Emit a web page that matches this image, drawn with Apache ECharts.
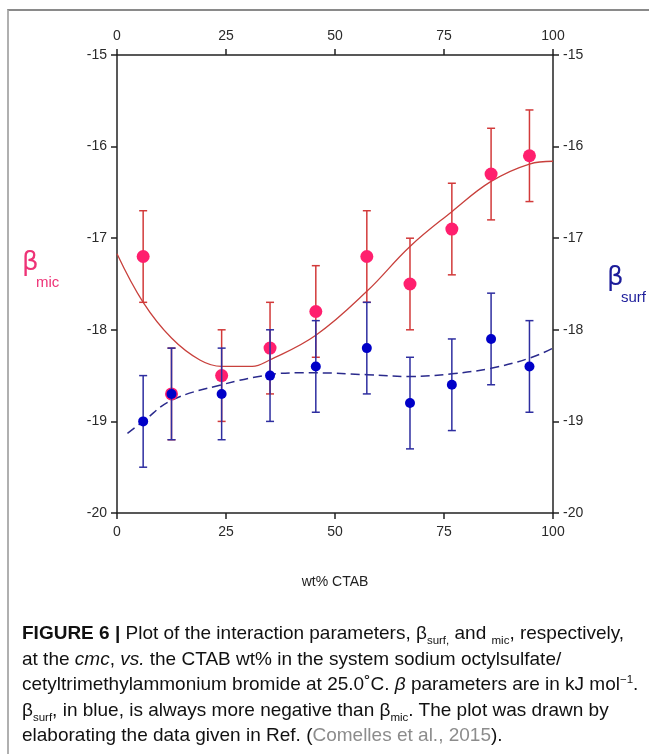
<!DOCTYPE html>
<html>
<head>
<meta charset="utf-8">
<script src="https://cdn.jsdelivr.net/npm/echarts@6/dist/echarts.min.js"></script>
<style>
  html, body { margin: 0; padding: 0; background: #fff; }
  #wrap { position: relative; width: 649px; height: 754px; overflow: hidden; }
  #frame { position: absolute; left: 7px; top: 9px; width: 660px; height: 760px;
    border-top: 2px solid #8a8a8a; border-left: 2px solid #b0b0b0; }
  #chart { position: absolute; left: 0; top: 0; width: 649px; height: 754px; }
  #caption { position: absolute; left: 22px; top: 620px; width: 625px;
    font-family: "Liberation Sans", Arial, sans-serif;
    font-size: 19px; line-height: 25.6px; color: #111; white-space: nowrap; }
  #caption sub, #caption sup { font-size: 11.5px; line-height: 0; }
  .ref { color: #8c8c8c; }
</style>
</head>
<body>
<div id="wrap">
  <div id="frame"></div>
  <div id="chart"></div>
  <div id="caption">
    <b>FIGURE 6 |</b> Plot of the interaction parameters, β<sub>surf,</sub> and <sub>mic</sub>, respectively,<br>
    at the <i>cmc</i>, <i>vs.</i> the CTAB wt% in the system sodium octylsulfate/<br>
    cetyltrimethylammonium bromide at 25.0˚C. <i>β</i> parameters are in kJ mol<sup>−1</sup>.<br>
    β<sub>surf</sub>, in blue, is always more negative than β<sub>mic</sub>. The plot was drawn by<br>
    elaborating the data given in Ref. (<span class="ref">Comelles et al., 2015</span>).
  </div>
</div>
<script>
// CTAB wt% of the measured points
const wtCTAB = [6.0, 12.5, 24.0, 35.1, 45.6, 57.3, 67.2, 76.8, 85.8, 94.6]
// beta_mic (red) and beta_surf (blue), kJ/mol
const betaMic = [-17.2, -18.7, -18.5, -18.2, -17.8, -17.2, -17.5, -16.9, -16.3, -16.1]
const betaSurf = [-19.0, -18.7, -18.7, -18.5, -18.4, -18.2, -18.8, -18.6, -18.1, -18.4]
const micErr = [0.5, 0.5, 0.5, 0.5, 0.5, 0.5, 0.5, 0.5, 0.5, 0.5]
const surfErr = [0.5, 0.5, 0.5, 0.5, 0.5, 0.5, 0.5, 0.5, 0.5, 0.5]
// fitted curves
const micFitX = [0, 6, 12.5, 19, 24, 31, 35, 45.6, 57.3, 67.2, 76.8, 85.8, 94.6, 100]
const micFitY = [-17.17, -17.7, -18.09, -18.33, -18.4, -18.4, -18.33, -18.06, -17.58, -17.09, -16.71, -16.38, -16.19, -16.16]
const surfFitX = [2.4, 6, 12.5, 24, 35, 41.7, 45.6, 57.3, 67.2, 76.8, 85.8, 94.6, 100]
const surfFitY = [-19.13, -19.0, -18.77, -18.6, -18.49, -18.47, -18.47, -18.49, -18.51, -18.48, -18.42, -18.31, -18.2]
const xTicks = [0, 25, 50, 75, 100]
const yTicks = [-20, -19, -18, -17, -16, -15]

const zip = (xs, ys) => xs.map((x, i) => [x, ys[i]])
const errData = (vals, err) => wtCTAB.map((x, i) => [x, vals[i] - err[i], vals[i] + err[i]])

function errorBars(color) {
  return function (params, api) {
    const x = api.value(0)
    const lo = api.coord([x, api.value(1)])
    const hi = api.coord([x, api.value(2)])
    const w = 4
    const style = { stroke: color, lineWidth: 1.5 }
    return {
      type: 'group',
      children: [
        { type: 'line', shape: { x1: lo[0], y1: lo[1], x2: hi[0], y2: hi[1] }, style },
        { type: 'line', shape: { x1: lo[0] - w, y1: lo[1], x2: lo[0] + w, y2: lo[1] }, style },
        { type: 'line', shape: { x1: hi[0] - w, y1: hi[1], x2: hi[0] + w, y2: hi[1] }, style },
      ],
    }
  }
}

const axisLine = { show: true, onZero: false, lineStyle: { color: '#222', width: 1.5 } }
const axisTick = { show: true, length: 6, lineStyle: { color: '#222', width: 1.5 } }
const label = { color: '#2a2a2a', fontSize: 14, fontFamily: 'Liberation Sans, Arial, sans-serif' }

function xAxis(pos, extra) {
  return Object.assign({
    type: 'value', position: pos, min: xTicks[0], max: xTicks[xTicks.length - 1], interval: 25,
    axisLine, axisTick, splitLine: { show: false },
    axisLabel: Object.assign({ margin: 12 }, label),
  }, extra)
}
function yAxis(pos) {
  return {
    type: 'value', position: pos, min: yTicks[0], max: yTicks[yTicks.length - 1], interval: 1,
    axisLine, axisTick, splitLine: { show: false },
    axisLabel: Object.assign({ margin: 10 }, label),
  }
}

const chart = echarts.init(document.getElementById('chart'))
const option = {
  animation: false,
  grid: { left: 117, right: 96, top: 55, bottom: 241 },
  xAxis: [
    xAxis('bottom', {
      name: 'wt% CTAB', nameLocation: 'middle', nameGap: 62,
      nameTextStyle: { color: '#222', fontSize: 14, fontFamily: 'Liberation Sans, Arial, sans-serif' },
    }),
    xAxis('top', {}),
  ],
  yAxis: [yAxis('left'), yAxis('right')],
  graphic: [
    { type: 'text', left: 22, top: 250, style: { text: 'β', fontSize: 26, fill: '#ee3377', fontFamily: 'DejaVu Sans, sans-serif' } },
    { type: 'text', left: 36, top: 275, style: { text: 'mic', fontSize: 15, fill: '#ee3377', fontFamily: 'Liberation Sans, Arial, sans-serif' } },
    { type: 'text', left: 607, top: 265, style: { text: 'β', fontSize: 26, fill: '#1c1c9a', fontFamily: 'DejaVu Sans, sans-serif' } },
    { type: 'text', left: 621, top: 290, style: { text: 'surf', fontSize: 15, fill: '#1c1c9a', fontFamily: 'Liberation Sans, Arial, sans-serif' } },
  ],
  series: [
    {
      type: 'line', data: zip(micFitX, micFitY), smooth: 0.4, showSymbol: false,
      lineStyle: { color: '#c8403c', width: 1.3 }, z: 2,
    },
    {
      type: 'line', data: zip(surfFitX, surfFitY), smooth: 0.4, showSymbol: false,
      lineStyle: { color: '#2a2a8c', width: 1.5, type: [9, 5] }, z: 2,
    },
    { type: 'custom', renderItem: errorBars('#d23a3a'), data: errData(betaMic, micErr), z: 3 },
    {
      type: 'scatter', data: zip(wtCTAB, betaMic), symbolSize: 13,
      itemStyle: { color: '#ff1f6e', opacity: 1 }, z: 4,
    },
    { type: 'custom', renderItem: errorBars('#2e2ea0'), data: errData(betaSurf, surfErr), z: 5 },
    {
      type: 'scatter', data: zip(wtCTAB, betaSurf), symbolSize: 10,
      itemStyle: { color: '#0000c8', opacity: 1 }, z: 6,
    },
  ],
}
option && chart.setOption(option)
</script>
</body>
</html>
